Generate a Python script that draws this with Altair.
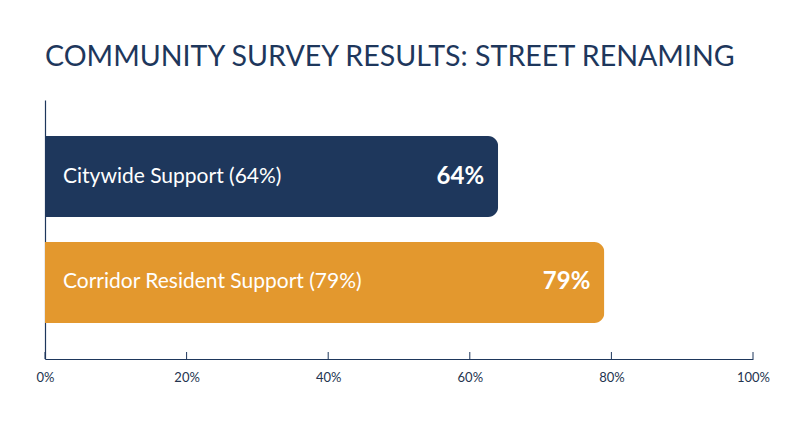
import altair as alt
import pandas as pd

categories = ["Citywide Support (64%)", "Corridor Resident Support (79%)"]
values = [64, 79]
value_labels = ["64%", "79%"]
colors = ["#1e375c", "#e3982e"]
tick_values = [0, 20, 40, 60, 80, 100]

df = pd.DataFrame({"cat": categories, "val": values, "lab": value_labels})
ticks_df = pd.DataFrame({"t": tick_values})

NAVY = "#1e375c"
W, H = 708, 259

y_enc = alt.Y("cat:N", sort=categories,
              scale=alt.Scale(paddingInner=0.236, paddingOuter=0.34),
              axis=alt.Axis(labels=False, ticks=False, title=None, domain=True,
                            domainColor=NAVY, domainWidth=1.2, grid=False))
x_scale = alt.Scale(domain=[0, 100], nice=False)

bars = alt.Chart(df).mark_bar(cornerRadiusEnd=10).encode(
    x=alt.X("val:Q", scale=x_scale,
            axis=alt.Axis(values=tick_values, labelExpr="datum.value + '%'",
                          title=None, grid=False, ticks=False, domain=True,
                          domainColor=NAVY, domainWidth=1.2, labelFlush=False,
                          labelColor="#24344f", labelFont="Lato", labelFontSize=13,
                          labelPadding=12)),
    y=y_enc,
    color=alt.Color("cat:N", scale=alt.Scale(domain=categories, range=colors), legend=None),
)

cat_text = alt.Chart(df).mark_text(align="left", baseline="middle", dx=18, color="white",
                                   font="Lato", fontSize=21).encode(
    x=alt.X("zero:Q", scale=x_scale),
    y=alt.Y("cat:N", sort=categories),
    text="cat:N",
).transform_calculate(zero="0")

val_text = alt.Chart(df).mark_text(align="right", baseline="middle", dx=-14, color="white",
                                   font="Lato", fontSize=24, fontWeight="bold").encode(
    x=alt.X("val:Q", scale=x_scale),
    y=alt.Y("cat:N", sort=categories),
    text="lab:N",
)

tick_layer = alt.Chart(ticks_df).mark_rule(color=NAVY, strokeWidth=1).encode(
    x=alt.X("t:Q", scale=x_scale),
    y=alt.value(H - 7),
    y2=alt.value(H),
)

chart = alt.layer(bars, cat_text, val_text, tick_layer).properties(
    width=W, height=H,
    title=alt.TitleParams("COMMUNITY SURVEY RESULTS: STREET RENAMING", anchor="start",
                          font="Lato", fontSize=28.6, fontWeight="normal", color=NAVY,
                          offset=28, frame="group"),
    padding={"left": 37, "top": 92, "right": 39, "bottom": 80},
    autosize=alt.AutoSizeParams(type="none"),
).configure(background="white").configure_view(stroke=None, strokeWidth=0)

chart.save("out.html", embed_options={"renderer": "svg", "actions": False})
